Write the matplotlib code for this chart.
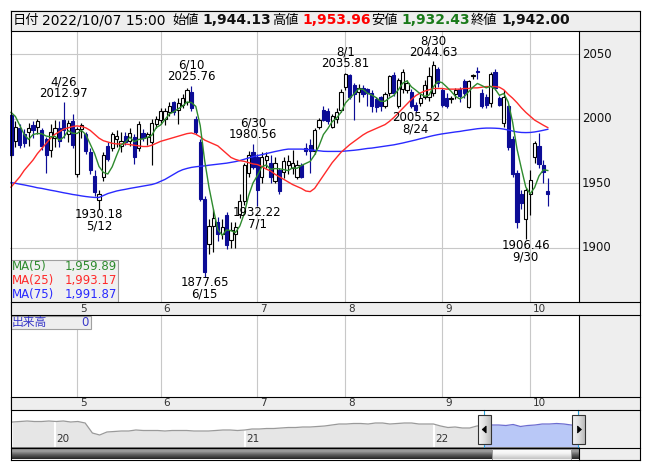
import matplotlib
matplotlib.use("Agg")
import matplotlib.pyplot as plt
import matplotlib.dates as mdates
from matplotlib.patches import Rectangle, Polygon
from matplotlib.colors import LinearSegmentedColormap
import numpy as np
import pandas as pd

plt.rcParams['font.family'] = ['DejaVu Sans', 'Noto Sans CJK JP']

# ---------------- data ----------------
dates = ['4/8', '4/11', '4/12', '4/13', '4/14', '4/15', '4/18', '4/19', '4/20', '4/21', '4/22', '4/25', '4/26', '4/27', '4/28',
         '5/2', '5/6', '5/9', '5/10', '5/11', '5/12', '5/13', '5/16', '5/17', '5/18', '5/19', '5/20', '5/23', '5/24', '5/25',
         '5/26', '5/27', '5/30', '5/31',
         '6/1', '6/2', '6/3', '6/6', '6/7', '6/8', '6/9', '6/10', '6/13', '6/14', '6/15', '6/16', '6/17', '6/20', '6/21',
         '6/22', '6/23', '6/24', '6/27', '6/28', '6/29', '6/30',
         '7/1', '7/4', '7/5', '7/6', '7/7', '7/8', '7/11', '7/12', '7/13', '7/14', '7/15', '7/19', '7/20', '7/21', '7/22',
         '7/25', '7/26', '7/27', '7/28', '7/29',
         '8/1', '8/2', '8/3', '8/4', '8/5', '8/8', '8/9', '8/10', '8/12', '8/15', '8/16', '8/17', '8/18', '8/19', '8/22',
         '8/23', '8/24', '8/25', '8/26', '8/29', '8/30', '8/31',
         '9/1', '9/2', '9/5', '9/6', '9/7', '9/8', '9/9', '9/12', '9/13', '9/14', '9/15', '9/16', '9/20', '9/21', '9/22',
         '9/26', '9/27', '9/28', '9/29', '9/30',
         '10/3', '10/4', '10/5', '10/6', '10/7']

opens = [2003, 1983, 1993, 1988, 1990, 1995, 1994, 1991, 1984, 1976, 1985, 1993, 1999, 1988, 1998,
         1957, 1992, 1988, 1974, 1956, 1937, 1955, 1979, 1977, 1984, 1979, 1987, 1983, 1986, 1977,
         1989, 1986, 1982, 1996,
         1999, 2000, 2005, 2013, 2007, 2011, 2013, 2021, 2000, 1982, 1938, 1903, 1917, 1920, 1911,
         1925, 1906, 1911, 1926, 1936, 1958, 1974,
         1970, 1955, 1968, 1966, 1952, 1960, 1959, 1964, 1962, 1955, 1964, 1977, 1980, 1975, 1994,
         2007, 2006, 1994, 2000, 2007,
         2025, 2034, 2026, 2021, 2024, 2023, 2020, 2015, 2017, 2010, 2020, 2034, 2010, 2023, 2022,
         2021, 2011, 2012, 2017, 2017, 2020, 2039,
         2022, 2016, 2015, 2019, 2023, 2029, 2009, 2033, 2037, 2020, 2017, 2012, 2036, 2016, 1997,
         2010, 1984, 1958, 1942, 1922,
         1942, 1970, 1979, 1964, 1944.13]
highs = [2005, 1998, 1996, 1992, 1997, 1998, 2000, 1993, 1986, 1996, 1999, 1998, 2012.97, 1999, 2004,
         1994, 1997, 1990, 1977, 1960, 1945, 1974, 1982, 1990, 1991, 1990, 1990, 1993, 1988, 1998,
         1992, 1990, 2000, 2002,
         2008, 2008, 2013, 2014, 2016, 2019, 2024, 2025.76, 2002, 1984, 1940, 1922, 1930, 1924, 1922,
         1928, 1920, 1920, 1942, 1966, 1975, 1980.56,
         1973, 1974, 1974, 1972, 1970, 1962, 1970, 1972, 1976, 1968, 1966, 1981, 1984, 1993, 2001,
         2010, 2008, 2004, 2008, 2023,
         2035.81, 2035, 2028, 2027, 2026, 2024, 2022, 2017, 2018, 2021, 2034, 2036, 2032, 2039, 2030,
         2023, 2013, 2019, 2030, 2040, 2044.63, 2040,
         2024, 2020, 2018, 2024, 2025, 2031, 2030, 2035, 2040, 2023, 2019, 2036, 2039, 2018, 2022,
         2011, 1987, 1960, 1945, 1946,
         1960, 1983, 1989, 1968, 1953.96]
lows = [1970, 1978, 1977, 1978, 1979, 1985, 1988, 1976, 1958, 1970, 1978, 1978, 1985, 1982, 1977,
        1955, 1985, 1973, 1957, 1940, 1930.18, 1952, 1967, 1975, 1978, 1974, 1980, 1979, 1965, 1975,
        1983, 1980, 1964, 1993,
        1996, 1995, 2002, 2003, 1996, 2008, 2011, 2006, 1988, 1936, 1877.65, 1895, 1897, 1905, 1907,
        1899, 1900, 1900, 1923, 1933, 1955, 1961,
        1932.22, 1950, 1962, 1950, 1950, 1942, 1954, 1957, 1957, 1953, 1954, 1972, 1958, 1973, 1992,
        1998, 1996, 1993, 1997, 2005,
        2022, 2015, 1999, 2013, 2017, 2010, 2005, 2005, 2006, 2008, 2018, 2018, 2008, 2020, 2020,
        2008, 2005.52, 2010, 2015, 2014, 2018, 2025,
        2009, 2008, 2012, 2015, 2013, 2016, 2008, 2031, 2031, 2008, 2008, 2009, 2022, 2010, 1994,
        1976, 1955, 1915, 1930, 1906.46,
        1925, 1966, 1962, 1950, 1932.43]
closes = [1972, 1994, 1980, 1981, 1993, 1991, 1998, 1979, 1972, 1990, 1993, 1983, 1991, 1997, 1980,
          1992, 1995, 1975, 1960, 1943, 1942, 1972, 1969, 1988, 1987, 1983, 1982, 1989, 1970, 1996,
          1985, 1988, 1997, 2000,
          2006, 2006, 2010, 2005, 2012, 2016, 2022, 2008, 1990, 1938, 1881, 1917, 1923, 1911, 1916,
          1902, 1914, 1916, 1936, 1964, 1972, 1963,
          1945, 1970, 1971, 1955, 1966, 1944, 1967, 1967, 1966, 1964, 1955, 1975, 1975, 1991, 1999,
          1999, 1998, 2002, 2005, 2021,
          2035, 2017, 2019, 2024, 2019, 2020, 2010, 2009, 2010, 2019, 2033, 2020, 2030, 2036, 2028,
          2010, 2007, 2016, 2026, 2033, 2042, 2028,
          2011, 2010, 2016, 2022, 2018, 2020, 2029, 2034, 2036, 2010, 2011, 2035, 2024, 2011, 2017,
          1978, 1957, 1920, 1935, 1945,
          1952.45, 1981, 1965, 1959, 1942.00]
prior_closes = [2010, 2015, 2016, 2012]   # closes before the window (for MA5)

ma25 = [1947, 1951, 1955, 1960, 1964, 1968, 1973, 1977, 1981, 1985,
        1988, 1990, 1992, 1993, 1994, 1994.5, 1994, 1993, 1991, 1988,
        1985, 1983, 1982, 1981, 1980.5, 1980.5, 1980.5, 1980, 1979.5, 1979,
        1978.5, 1978.5, 1979.5, 1981, 1982.5, 1983.5, 1984.5, 1985.5, 1986.5, 1987.5,
        1988.5, 1989, 1988, 1986, 1983.5, 1982, 1980.5, 1979, 1976, 1973,
        1970, 1968.5, 1967.5, 1967, 1966, 1965, 1964.5, 1963, 1961, 1959.5,
        1957, 1955, 1953, 1951, 1949, 1947.5, 1946, 1944, 1943.5, 1946,
        1951, 1956, 1961, 1966, 1970, 1974, 1977, 1980, 1982.5, 1985,
        1987.5, 1989.5, 1991, 1992.5, 1994, 1995.5, 1998, 2001, 2004.5, 2008,
        2011.5, 2015, 2018, 2020, 2021.5, 2022.5, 2023.5, 2023.5, 2023.5, 2023,
        2023, 2023, 2023, 2023.5, 2023.5, 2024, 2024, 2024.5, 2025, 2025,
        2025, 2024.5, 2022.5, 2019, 2016, 2012.5, 2008.5, 2005, 2002, 1999,
        1997, 1995, 1993.17]
ma75 = [1950.5, 1950, 1949.3, 1948.7, 1948, 1947.3, 1946.5, 1946, 1945.3, 1944.6,
        1944, 1943.3, 1942.6, 1942, 1941.3, 1940.8, 1940.2, 1939.7, 1939.3, 1939,
        1939, 1940.5, 1942, 1943, 1944, 1944.7, 1945.3, 1946, 1946.6, 1947.2,
        1947.8, 1948.4, 1949, 1950, 1951.5, 1953, 1955, 1957, 1959, 1960.5,
        1961.5, 1962.3, 1962.8, 1963.2, 1963.5, 1964, 1964.4, 1964.8, 1965.2, 1965.6,
        1966.2, 1966.8, 1967.6, 1968.6, 1969.6, 1970.6, 1971.4, 1972.2, 1973, 1973.8,
        1974.6, 1975.3, 1976, 1976.5, 1976.5, 1976.5, 1976.5, 1976.3, 1976, 1975.6,
        1975.2, 1974.8, 1974.7, 1974.7, 1974.7, 1974.7, 1975, 1975.3, 1975.6, 1976,
        1976.5, 1977, 1977.3, 1977.8, 1978.3, 1978.8, 1979.3, 1979.8, 1980.5, 1981.2,
        1982, 1982.8, 1983.6, 1984.5, 1985.3, 1986.2, 1987, 1987.7, 1988.3, 1988.8,
        1989.3, 1989.8, 1990.2, 1990.8, 1991.3, 1991.8, 1992.3, 1992.6, 1992.8, 1992.8,
        1992.7, 1992.5, 1992, 1991.3, 1990.5, 1989.8, 1989.4, 1989.3, 1989.4, 1989.8,
        1990.4, 1991.1, 1991.87]

peak_marks = [('4/26', 'high'), ('5/12', 'low'), ('6/10', 'high'), ('6/15', 'low'),
              ('6/30', 'high'), ('7/1', 'low'), ('8/1', 'high'), ('8/24', 'low'),
              ('8/30', 'high'), ('9/30', 'low')]
price_levels = [1900, 1950, 2000, 2050]
volume_last = 0

nav_start = '2019-10-11'
nav_vals = [2110, 2135, 2160, 2135, 2135, 2160, 2135, 2160, 2110, 2135,
            2060, 1560, 1460, 1610, 1635, 1660, 1660, 1710, 1685, 1685,
            1685, 1660, 1685, 1685, 1685, 1660, 1660, 1660, 1685, 1710,
            1710, 1685, 1710, 1760, 1760, 1785, 1785, 1810, 1835, 1835,
            1860, 1860, 1885, 1910, 1960, 2010, 2010, 2035, 2035, 2010,
            2060, 2060, 2010, 2035, 2060, 2060, 2010, 2010, 2010, 1910,
            1835, 1860, 1810, 1810, 1910, 1935, 1960, 1960, 1935, 1985,
            1885, 1935, 1960, 2010, 2010, 2035, 2010, 1960, 1935]
sel_start, sel_end = '2022-04-08', '2022-10-07'

header_date = '2022/10/07 15:00'

# ---------------- figure ----------------
W, H = 653, 470
fig = plt.figure(figsize=(W / 100, H / 100), dpi=100)
fig.patch.set_facecolor('white')

GRAY = '#eeeeee'
DOWN = '#0c0c96'
GRID = '#c8c8c8'
C5, C25, C75 = '#2e8b2e', '#ff2a2a', '#2a2aff'


def px_axes(x0, y0, x1, y1, z):
    return fig.add_axes([x0 / W, 1 - y1 / H, (x1 - x0) / W, (y1 - y0) / H], zorder=z)


def overlay(z):
    a = px_axes(0, 0, W, H, z)
    a.set_xlim(0, W)
    a.set_ylim(H, 0)
    a.axis('off')
    return a


def bare(a):
    a.set_xticks([])
    a.set_yticks([])
    for s in a.spines.values():
        s.set_visible(False)


bg = overlay(0)
bg.add_patch(Rectangle((10, 10), 630, 21, facecolor=GRAY, edgecolor='none'))
bg.add_patch(Rectangle((579, 31), 61, 429, facecolor=GRAY, edgecolor='none'))
bg.add_patch(Rectangle((10, 302), 630, 13, facecolor=GRAY, edgecolor='none'))
bg.add_patch(Rectangle((10, 397), 630, 13, facecolor=GRAY, edgecolor='none'))

n = len(dates)
xs = np.arange(n)
XL = (-0.23, 129.09)
months = [int(d.split('/')[0]) for d in dates]
month_starts = [i for i in range(1, n) if months[i] != months[i - 1]]

o = np.array(opens, float)
h = np.array(highs, float)
l = np.array(lows, float)
c = np.array(closes, float)
ext = np.array(prior_closes + closes, float)
ma5 = np.array([ext[i:i + 5].mean() for i in range(n)])

# ---- main price panel ----
ax = px_axes(10, 31, 579, 302, 2)
bare(ax)
ax.set_facecolor('white')
ax.set_xlim(*XL)
ax.set_ylim(1857.9, 2068.1)
for lv in price_levels:
    ax.axhline(lv, color=GRID, lw=0.8, zorder=0)
    ax.text(1 + 3 / 569, lv, str(lv), transform=ax.get_yaxis_transform(), ha='left',
            va='center', fontsize=8.5, color='#111111', clip_on=False)
for m in month_starts:
    ax.axvline(m, color=GRID, lw=0.8, zorder=0)

up = c >= o
bot = np.minimum(o, c)
bh = np.maximum(np.abs(c - o), 0.35)
ax.vlines(xs[up], l[up], h[up], color='black', lw=0.85, zorder=2)
ax.vlines(xs[~up], l[~up], h[~up], color=DOWN, lw=0.85, zorder=2)
ax.bar(xs[up], bh[up], bottom=bot[up], width=0.76, facecolor='white', edgecolor='black',
       lw=0.8, zorder=3)
ax.bar(xs[~up], bh[~up], bottom=bot[~up], width=0.76, facecolor=DOWN, edgecolor=DOWN,
       lw=0.8, zorder=3)

ax.plot(xs, ma75, color=C75, lw=1.0, zorder=4)
ax.plot(xs, ma25, color=C25, lw=1.0, zorder=4)
ax.plot(xs, ma5, color=C5, lw=1.0, zorder=4)

for d, kind in peak_marks:
    i = dates.index(d)
    if kind == 'high':
        v = highs[i]
        ax.annotate(f'{v:.2f}', (i, v), xytext=(0, 9), textcoords='offset pixels',
                    ha='center', va='center', fontsize=8.5, zorder=6)
        ax.annotate(d, (i, v), xytext=(0, 20.5), textcoords='offset pixels',
                    ha='center', va='center', fontsize=8.5, zorder=6)
    else:
        v = lows[i]
        ax.annotate(f'{v:.2f}', (i, v), xytext=(0, -6), textcoords='offset pixels',
                    ha='center', va='center', fontsize=8.5, zorder=6)
        ax.annotate(d, (i, v), xytext=(0, -17.5), textcoords='offset pixels',
                    ha='center', va='center', fontsize=8.5, zorder=6)

# ---- date strips ----
for (y0, y1) in [(302, 315), (397, 410)]:
    st = px_axes(10, y0, 579, y1, 2)
    bare(st)
    st.patch.set_alpha(0)
    st.set_xlim(*XL)
    st.set_ylim(0, 1)
    for m in month_starts:
        st.annotate(str(months[m]), (m, 0.5), xytext=(3, 0), textcoords='offset pixels',
                    ha='left', va='center', fontsize=7.5, color='#333333')

# ---- volume panel ----
av = px_axes(10, 315, 579, 397, 2)
bare(av)
av.set_facecolor('white')
av.set_xlim(*XL)
av.set_ylim(0, 1)
for m in month_starts:
    av.axvline(m, color=GRID, lw=0.8, zorder=0)

# ---- navigator ----
an = px_axes(10, 410, 579, 448, 2)
bare(an)
an.set_facecolor('white')
nav_dates = pd.date_range(nav_start, periods=len(nav_vals), freq='14D')
nx = mdates.date2num(nav_dates.to_pydatetime())
nv = np.array(nav_vals, float)
s0 = mdates.date2num(pd.Timestamp(sel_start).to_pydatetime())
s1 = mdates.date2num(pd.Timestamp(sel_end).to_pydatetime())
an.set_xlim(mdates.date2num(pd.Timestamp('2019-10-06').to_pydatetime()), s1 + 1)
an.set_ylim(810, 2710)
pre = nx <= s0
post = nx >= s0
an.fill_between(nx[pre], nv[pre], 810, color='#e6e6e6', lw=0, zorder=1)
an.fill_between(nx[post], nv[post], 810, color='#b9c8f7', lw=0, zorder=1)
for yr in sorted(set(nav_dates.year))[1:]:
    xy = mdates.date2num(pd.Timestamp(f'{yr}-01-01').to_pydatetime())
    an.axvline(xy, color='white', lw=1.5, zorder=2)
    an.annotate(f'{yr % 100:02d}', (xy, 810), xytext=(1, 3.5), textcoords='offset pixels',
                ha='left', va='bottom', fontsize=7.5, color='#333333', zorder=3)
an.plot(nx[pre], nv[pre], color='#9a9a9a', lw=0.9, zorder=3)
an.plot(nx[post], nv[post], color='#6d6dd0', lw=0.9, zorder=3)


def to_px(a, x, y):
    d = a.transData.transform((x, y))
    return d[0], H - d[1]


sx0, _ = to_px(an, s0, 2000)
sx1, _ = to_px(an, s1, 2000)

# ---- foreground ----
fg = overlay(10)
# legend box
fg.add_patch(Rectangle((10.5, 259.5), 107.5, 42.5, facecolor='#f0f0f0', edgecolor='#a0a0a0',
                       lw=0.8))
for k, (lab, val, col) in enumerate([('MA(5)', ma5[-1], C5), ('MA(25)', ma25[-1], C25),
                                     ('MA(75)', ma75[-1], C75)]):
    yy = 266.7 + 14 * k
    fg.text(12, yy, lab, color=col, fontsize=8.5, ha='left', va='center')
    fg.text(117, yy, f'{val:,.2f}', color=col, fontsize=8.5, ha='right', va='center')
# volume label box
fg.add_patch(Rectangle((10.5, 315.5), 80.5, 13.5, facecolor=GRAY, edgecolor='#a0a0a0', lw=0.8))
fg.text(12, 322.3, '出来高', color='#3838c8', fontsize=8.5, ha='left', va='center')
fg.text(89, 322.3, f'{volume_last}', color='#3838c8', fontsize=8.5, ha='right', va='center')

# header text
hy = 20.5
fg.text(13, hy, '日付', fontsize=9.5, ha='left', va='center')
fg.text(41.5, hy, header_date, fontsize=10, ha='left', va='center')
items = [(172.5, '始値', opens[-1], '#111111'), (272.5, '高値', highs[-1], '#ff0000'),
         (371.5, '安値', lows[-1], '#1a7a1a'), (471, '終値', closes[-1], '#111111')]
for x0, lab, val, col in items:
    fg.text(x0, hy, lab, fontsize=9.5, ha='left', va='center')
    fg.text(x0 + 30, hy, f'{val:,.2f}', fontsize=10, fontweight='bold', color=col,
            ha='left', va='center')

# scrollbar
dark = LinearSegmentedColormap.from_list('d', ['#7a7a7a', '#a0a0a0', '#5a5a5a', '#262626'])
grad = np.linspace(0, 1, 40).reshape(-1, 1)
fg.imshow(grad, cmap=dark, extent=(10.5, 579, 459.5, 448), aspect='auto', zorder=1)
light = LinearSegmentedColormap.from_list('l', ['#ffffff', '#f4f4f4', '#c4c4c4'])
fg.imshow(grad, cmap=light, extent=(sx0 + 7.5, sx1 - 7.5, 459.5, 448.5), aspect='auto', zorder=2)
fg.add_patch(Rectangle((sx0 + 7.5, 448.5), sx1 - sx0 - 15, 11, facecolor='none',
                       edgecolor='#8a8a8a', lw=0.6, zorder=3))

# selection edges and handles
hgrad = np.linspace(0, 1, 20).reshape(1, -1)
hcm = LinearSegmentedColormap.from_list('h', ['#f6f6f6', '#e0e0e0', '#bcbcbc'])
for sx, direction in [(sx0, -1), (sx1, 1)]:
    fg.plot([sx, sx], [410, 448], color='#2aa0d8', lw=0.8, zorder=3)
    cx = sx + 0.5
    fg.imshow(hgrad, cmap=hcm, extent=(cx - 6.5, cx + 6.5, 444, 415), aspect='auto', zorder=4)
    fg.add_patch(Rectangle((cx - 6.5, 415), 13, 29, facecolor='none', edgecolor='#333333',
                           lw=0.8, zorder=5))
    tri = [(cx + 2.5 * direction, 429.5), (cx - 1.5 * direction, 426), (cx - 1.5 * direction, 433)]
    fg.add_patch(Polygon(tri, closed=True, facecolor='black', edgecolor='black', lw=0.5, zorder=6))

# frame lines
LW = 0.8
for yy in [10.5, 31, 302, 315, 397, 410, 448]:
    fg.plot([10.5, 640], [yy, yy], color='black', lw=LW, zorder=7)
fg.plot([10.5, 640], [459.5, 459.5], color='black', lw=LW, zorder=7)
fg.plot([10.5, 10.5], [10.5, 459.5], color='black', lw=LW, zorder=7)
fg.plot([640, 640], [10.5, 459.5], color='black', lw=LW, zorder=7)
for y0, y1 in [(31, 302), (315, 397), (448, 459.5)]:
    fg.plot([579, 579], [y0, y1], color='black', lw=LW, zorder=7)

fg.set_xlim(0, W)
fg.set_ylim(H, 0)

fig.savefig('out.png', dpi=100)
